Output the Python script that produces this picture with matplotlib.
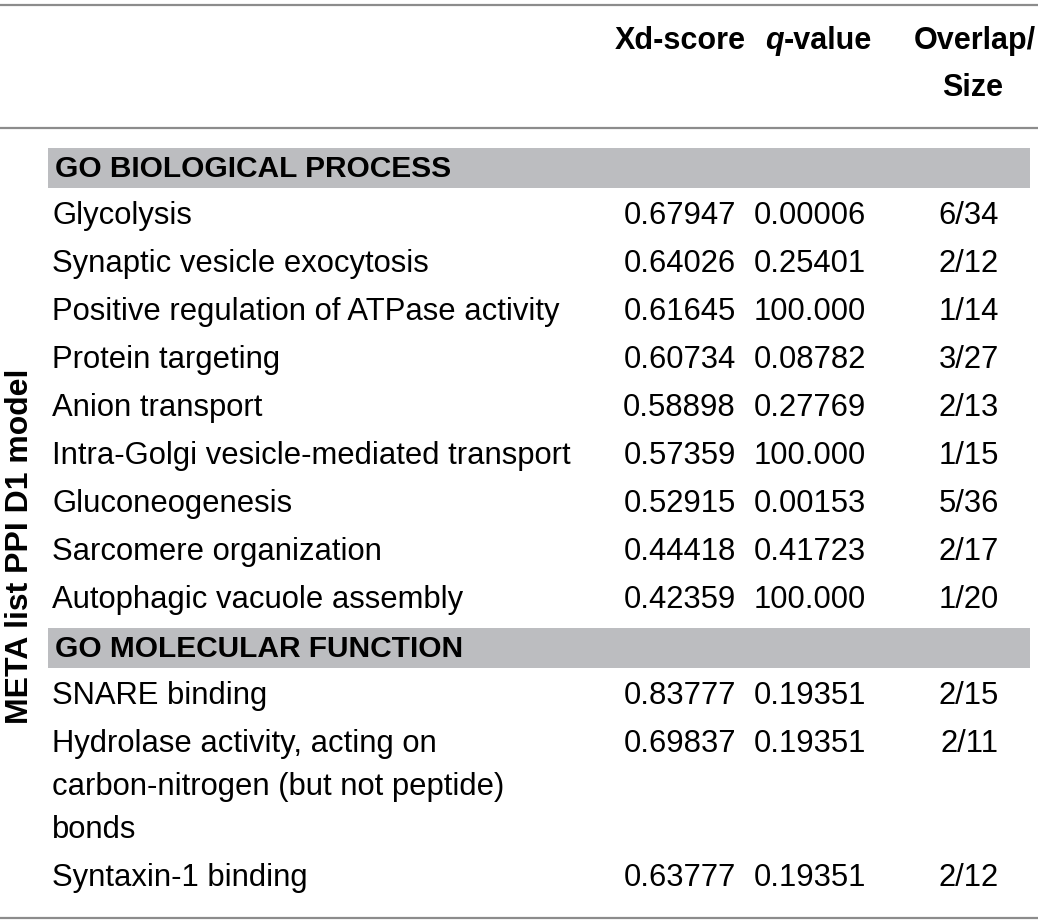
import matplotlib as mpl
mpl.use("Agg")
import matplotlib.pyplot as plt
from matplotlib.patches import Rectangle

# table content
HEADERS = ["Xd-score", "q-value", "Overlap/\nSize"]
SIDE_LABEL = "META list PPI D1 model"

BP_TITLE = "GO BIOLOGICAL PROCESS"
BP_TERMS = [
    "Glycolysis",
    "Synaptic vesicle exocytosis",
    "Positive regulation of ATPase activity",
    "Protein targeting",
    "Anion transport",
    "Intra-Golgi vesicle-mediated transport",
    "Gluconeogenesis",
    "Sarcomere organization",
    "Autophagic vacuole assembly",
]
BP_XD = ["0.67947", "0.64026", "0.61645", "0.60734", "0.58898",
         "0.57359", "0.52915", "0.44418", "0.42359"]
BP_Q = ["0.00006", "0.25401", "100.000", "0.08782", "0.27769",
        "100.000", "0.00153", "0.41723", "100.000"]
BP_OVERLAP = ["6/34", "2/12", "1/14", "3/27", "2/13", "1/15", "5/36", "2/17", "1/20"]

MF_TITLE = "GO MOLECULAR FUNCTION"
MF_TERMS = [
    "SNARE binding",
    "Hydrolase activity, acting on\ncarbon-nitrogen (but not peptide)\nbonds",
    "Syntaxin-1 binding",
]
MF_XD = ["0.83777", "0.69837", "0.63777"]
MF_Q = ["0.19351", "0.19351", "0.19351"]
MF_OVERLAP = ["2/15", "2/11", "2/12"]

W, H = 1038, 924
BODY = ["Liberation Sans", "DejaVu Sans"]
LINE_COL = "#8C8C8C"
BAR_COL = "#BCBDC0"
FS = 22.3
HFS = 22
ROW_H = 48
SUB_H = 43

X_TERM = 52
X_XD = 736
X_Q = 810
X_OV = 999


def hline(ax, y):
    ax.plot([0, W], [y, y], color=LINE_COL, linewidth=1.6, solid_capstyle="butt")


def section(ax, title, y0, terms, xd, q, ov):
    ax.add_patch(Rectangle((48, y0 - 20), 982, 40, facecolor=BAR_COL, edgecolor="none"))
    ax.text(55, y0 + 1, title, fontsize=21.5, fontweight="bold", family=BODY,
            ha="left", va="center")
    y = y0 + ROW_H
    for term, a, b, c in zip(terms, xd, q, ov):
        ax.text(X_XD, y, a, fontsize=FS, family=BODY, ha="right", va="center")
        ax.text(X_Q, y, b, fontsize=FS, family=BODY, ha="center", va="center")
        ax.text(X_OV, y, c, fontsize=FS, family=BODY, ha="right", va="center")
        lines = term.split("\n")
        for k, line in enumerate(lines):
            ax.text(X_TERM, y + k * SUB_H, line, fontsize=FS, family=BODY,
                    ha="left", va="center")
        y += (len(lines) - 1) * SUB_H + ROW_H
    return y


fig = plt.figure(figsize=(W / 100, H / 100), dpi=100)
ax = fig.add_axes([0, 0, 1, 1])
ax.set_xlim(0, W)
ax.set_ylim(H, 0)
ax.axis("off")

hline(ax, 5)
hline(ax, 128)
hline(ax, 918)

ax.text(680, 41, HEADERS[0], fontsize=HFS, fontweight="bold", family=BODY, ha="center", va="center")
# italic q, bold rest
q_head, q_rest = HEADERS[1][0], HEADERS[1][1:]
ax.text(784, 41, q_head, fontsize=HFS, fontweight="bold", fontstyle="italic", family=BODY,
        ha="right", va="center")
ax.text(784, 41, q_rest, fontsize=HFS, fontweight="bold", family=BODY, ha="left", va="center")
top, bottom = HEADERS[2].split("\n")
ax.text(1036, 41, top, fontsize=HFS, fontweight="bold", family=BODY, ha="right", va="center")
ax.text(1003, 88, bottom, fontsize=HFS, fontweight="bold", family=BODY, ha="right", va="center")

section(ax, BP_TITLE, 168, BP_TERMS, BP_XD, BP_Q, BP_OVERLAP)
section(ax, MF_TITLE, 648, MF_TERMS, MF_XD, MF_Q, MF_OVERLAP)

ax.text(20, 546, SIDE_LABEL, fontsize=23, fontweight="bold", family=BODY,
        rotation=90, ha="center", va="center")

fig.savefig("out.png", dpi=100)
plt.close(fig)
